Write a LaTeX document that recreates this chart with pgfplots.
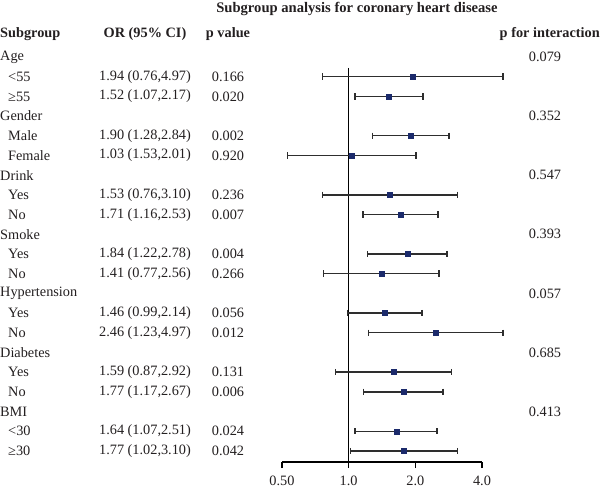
\documentclass[border=0pt]{standalone}
\usepackage{fontspec}
\setmainfont{Liberation Serif}
\usepackage{pgfplots}
\pgfplotsset{compat=1.18}

\definecolor{txt}{HTML}{231F20}
\definecolor{whisk}{HTML}{2E2E2E}
\definecolor{navy}{HTML}{1B2A6B}

\newcommand{\ry}[1]{(437-19.7*#1)*1pt}

\begin{document}
\begin{tikzpicture}[font=\fontsize{14.3}{16}\selectfont,text=txt]
\useasboundingbox (0pt,0pt) rectangle (600pt,494pt);
\begin{axis}[
  at={(282pt,32pt)}, anchor=south west,
  scale only axis, width=200pt, height=394pt,
  xmode=log, log basis x=2,
  xmin=0.5, xmax=4, ymin=0.56, ymax=20.56, y dir=reverse,
  axis x line=bottom, axis y line=none,
  x axis line style={-, line width=1.4pt, black},
  xtick={0.5,1,2,4}, xticklabels={0.50,1.0,2.0,4.0},
  tick align=outside, major tick length=6pt,
  every tick/.style={line width=1.4pt, black},
  xticklabel style={font=\fontsize{14.3}{16}\selectfont, text=txt, yshift=-4pt},
  clip=false,
  ci/.style={whisk, line width=1.4pt, mark=|, mark size=3.2pt,
             mark options={whisk, line width=1.4pt}},
]
% line of no effect
\addplot[black, line width=1.4pt] coordinates {(1,0.56) (1,20.56)};
% 95% confidence intervals (row index 0 = Age, counting downwards)
\addplot[ci] coordinates {(0.76,1) (4.97,1)};
\addplot[ci] coordinates {(1.07,2) (2.17,2)};
\addplot[ci] coordinates {(1.28,4) (2.84,4)};
\addplot[ci] coordinates {(0.53,5) (2.01,5)};
\addplot[ci] coordinates {(0.76,7) (3.10,7)};
\addplot[ci] coordinates {(1.16,8) (2.53,8)};
\addplot[ci] coordinates {(1.22,10) (2.78,10)};
\addplot[ci] coordinates {(0.77,11) (2.56,11)};
\addplot[ci] coordinates {(0.99,13) (2.14,13)};
\addplot[ci] coordinates {(1.23,14) (4.97,14)};
\addplot[ci] coordinates {(0.87,16) (2.92,16)};
\addplot[ci] coordinates {(1.17,17) (2.67,17)};
\addplot[ci] coordinates {(1.07,19) (2.51,19)};
\addplot[ci] coordinates {(1.02,20) (3.10,20)};
% odds ratios
\addplot[only marks, mark=square*, mark size=2.5pt, fill=navy, draw=navy]
  coordinates {(1.94,1) (1.52,2) (1.90,4) (1.03,5) (1.53,7) (1.71,8) (1.84,10)
               (1.41,11) (1.46,13) (2.46,14) (1.59,16) (1.77,17) (1.64,19) (1.77,20)};
\end{axis}

% title and column headers
\node[font=\bfseries\fontsize{14.6}{16}\selectfont] at (357pt,485pt) {Subgroup analysis for coronary heart disease};
\begin{scope}[font=\bfseries\fontsize{14.3}{16}\selectfont]
\node[anchor=west, inner sep=0] at (0pt,460pt) {Subgroup};
\node at (145pt,460pt) {OR (95\% CI)};
\node at (228pt,460pt) {p value};
\node[anchor=east, inner sep=0] at (600pt,460pt) {p for interaction};
\end{scope}

% group rows with the interaction p values
\foreach \r/\t/\p in {0/Age/0.079, 3/Gender/0.352, 6/Drink/0.547, 9/Smoke/0.393,
                      12/Hypertension/0.057, 15/Diabetes/0.685, 18/BMI/0.413}{
  \node[anchor=west, inner sep=0] at (0pt,{\ry{\r}}) {\t};
  \node at (545pt,{\ry{\r}}) {\p};
}

% subgroup rows
\foreach \r/\t/\o/\p in {
  1/{<55}/{1.94 (0.76,4.97)}/0.166,
  2/{≥55}/{1.52 (1.07,2.17)}/0.020,
  4/{Male}/{1.90 (1.28,2.84)}/0.002,
  5/{Female}/{1.03 (1.53,2.01)}/0.920,
  7/{Yes}/{1.53 (0.76,3.10)}/0.236,
  8/{No}/{1.71 (1.16,2.53)}/0.007,
  10/{Yes}/{1.84 (1.22,2.78)}/0.004,
  11/{No}/{1.41 (0.77,2.56)}/0.266,
  13/{Yes}/{1.46 (0.99,2.14)}/0.056,
  14/{No}/{2.46 (1.23,4.97)}/0.012,
  16/{Yes}/{1.59 (0.87,2.92)}/0.131,
  17/{No}/{1.77 (1.17,2.67)}/0.006,
  19/{<30}/{1.64 (1.07,2.51)}/0.024,
  20/{≥30}/{1.77 (1.02,3.10)}/0.042}{
  \node[anchor=west, inner sep=0] at (8pt,{\ry{\r}}) {\t};
  \node at (145pt,{\ry{\r}}) {\o};
  \node at (228pt,{\ry{\r}}) {\p};
}
\end{tikzpicture}
\end{document}
